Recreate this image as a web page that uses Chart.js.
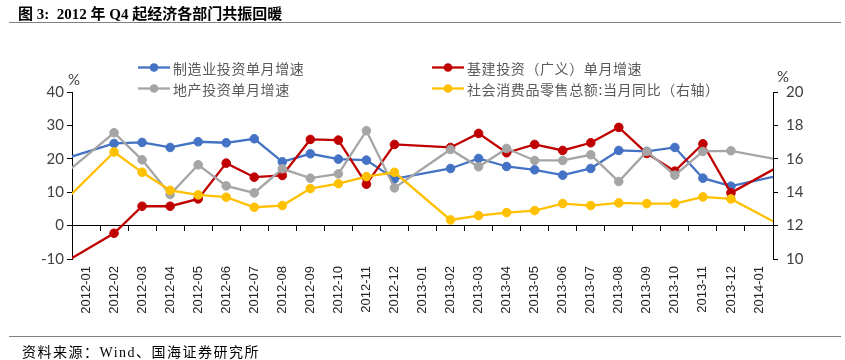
<!DOCTYPE html>
<html>
<head>
<meta charset="utf-8">
<script src="https://cdn.jsdelivr.net/npm/chart.js@4.4.1/dist/chart.umd.min.js"></script>
<style>
  html, body { margin:0; padding:0; background:#fff; }
  #wrap { position:relative; width:845px; height:360px; overflow:hidden; }
  #c { position:absolute; left:0; top:0; }
  #title { position:absolute; left:18px; top:2px; font: bold 15px "Liberation Serif", "Noto Sans CJK SC", serif; color:#000; white-space:nowrap; }
  #tline { position:absolute; left:9px; top:22px; width:832px; border-top:1.5px solid #808080; }
  #bline { position:absolute; left:9px; top:336px; width:832px; border-top:1.5px solid #808080; }
  #source { position:absolute; left:22px; top:341px; font: 14px "Liberation Serif", "Noto Sans CJK SC", serif; letter-spacing:1.5px; color:#000; white-space:nowrap; }
</style>
</head>
<body>
<div id="wrap">
  <canvas id="c" width="845" height="360"></canvas>
  <div id="title">图 3:&nbsp; 2012 年 Q4 起经济各部门共振回暖</div>
  <div id="tline"></div>
  <div id="bline"></div>
  <div id="source">资料来源：Wind、国海证券研究所</div>
</div>
<script>
// x-axis tick labels (categories)
const months = ['2012-01','2012-02','2012-03','2012-04','2012-05','2012-06','2012-07','2012-08','2012-09','2012-10','2012-11','2012-12',
                '2013-01','2013-02','2013-03','2013-04','2013-05','2013-06','2013-07','2013-08','2013-09','2013-10','2013-11','2013-12','2014-01'];
// months that carry data (January values are absent; first/last lie just outside the plot)
const dataMonths = ['2011-12','2012-02','2012-03','2012-04','2012-05','2012-06','2012-07','2012-08','2012-09','2012-10','2012-11','2012-12',
                    '2013-02','2013-03','2013-04','2013-05','2013-06','2013-07','2013-08','2013-09','2013-10','2013-11','2013-12','2014-02'];
const seriesNames = ['制造业投资单月增速','基建投资（广义）单月增速','地产投资单月增速','社会消费品零售总额:当月同比（右轴）'];
const manufacturing = [19.4,24.6,24.9,23.4,25.1,24.8,26.0,19.1,21.5,19.9,19.6,14.0,17.1,20.1,17.7,16.7,15.1,17.1,22.5,22.2,23.4,14.2,11.8,15.5];
const infrastructure = [-12.2,-2.3,5.8,5.8,8.0,18.7,14.5,15.0,25.8,25.6,12.4,24.3,23.4,27.6,21.8,24.3,22.5,24.8,29.4,21.6,16.3,24.5,9.8,19.1];
const realEstate = [13.8,27.8,19.7,9.3,18.2,11.9,9.8,17.0,14.2,15.5,28.4,11.3,22.8,17.6,23.1,19.5,19.5,21.2,13.2,22.2,15.1,22.2,22.4,19.3];
const retail = [13.09,16.41,15.19,14.11,13.84,13.70,13.10,13.20,14.22,14.51,14.93,15.19,12.34,12.60,12.78,12.90,13.32,13.20,13.36,13.32,13.32,13.72,13.60,11.81];
const leftTicks = [-10,0,10,20,30,40];
const rightTicks = [10,12,14,16,18,20];

const colors = ['#4472C4','#C00000','#A5A5A5','#FFC000'];

function monthIndex(s){ const [y,m]=s.split('-').map(Number); return (y-2012)*12 + (m-1); }
function pts(vals){ return dataMonths.map((m,i)=>({x: monthIndex(m), y: vals[i]})); }

function ds(i, vals, yAxis, order){
  return {
    label: seriesNames[i], data: pts(vals), xAxisID:'xd', yAxisID:yAxis,
    borderColor: colors[i], backgroundColor: colors[i], borderWidth: 2.3,
    pointRadius: 4.3, pointBorderWidth: 1, pointBorderColor: colors[i], pointBackgroundColor: colors[i],
    tension: 0, clip: 0, order: order
  };
}

const tickFont = { family: 'Lato, "Liberation Sans", sans-serif', size: 15 };

const overlay = {
  id: 'overlay',
  afterDraw(chart){
    const ctx = chart.ctx;
    const ca = chart.chartArea;
    ctx.save();
    // % unit labels
    ctx.fillStyle = '#404040';
    ctx.font = '15px Lato, "Liberation Sans", sans-serif';
    ctx.textAlign = 'center'; ctx.textBaseline = 'middle';
    ctx.fillText('%', ca.left + 2, ca.top - 12);
    ctx.fillText('%', ca.right + 10, ca.top - 15);
    // legend (2 x 2)
    const cols = [138, 432], rows = [67.5, 88.5];
    const order = [[0,0],[1,0],[0,1],[1,1]];
    ctx.font = '14px "Noto Sans CJK SC", sans-serif';
    ctx.textAlign = 'left';
    chart.data.datasets.forEach((d, i) => {
      const x = cols[order[i][0]], y = rows[order[i][1]];
      ctx.strokeStyle = d.borderColor; ctx.lineWidth = 2.3;
      ctx.beginPath(); ctx.moveTo(x, y); ctx.lineTo(x + 32, y); ctx.stroke();
      ctx.fillStyle = d.borderColor;
      ctx.beginPath(); ctx.arc(x + 16, y, 4.3, 0, Math.PI*2); ctx.fill();
      ctx.fillStyle = '#595959';
      if ('letterSpacing' in ctx) ctx.letterSpacing = '0.6px';
      ctx.fillText(d.label, x + 35, y + 1);
      if ('letterSpacing' in ctx) ctx.letterSpacing = '0px';
    });
    ctx.restore();
  }
};

new Chart(document.getElementById('c'), {
  type: 'line',
  data: { datasets: [
    ds(0, manufacturing, 'y', 4),
    ds(1, infrastructure, 'y', 3),
    ds(2, realEstate, 'y', 2),
    ds(3, retail, 'y2', 1)
  ]},
  options: {
    responsive: false, animation: false, maintainAspectRatio: false,
    layout: { padding: { top: 92, left: 0, right: 0, bottom: 0 } },
    plugins: { legend: { display: false }, tooltip: { enabled: false } },
    scales: {
      x: {
        type: 'category', labels: months, offset: true, position: 'bottom',
        grid: { display: false, drawTicks: false }, border: { display: false },
        ticks: { minRotation: 90, maxRotation: 90, autoSkip: false, padding: 7,
                 color: '#262626', font: { family: '"Liberation Sans", Arial, sans-serif', size: 13 } },
        afterFit: s => { s.height = 101; }
      },
      x0: {
        type: 'category', labels: months, offset: true, position: { y: 0 },
        grid: { offset: true, drawOnChartArea: false, drawTicks: true, tickLength: 5, color: '#000', lineWidth: 1 },
        border: { display: true, color: '#000', width: 1 },
        ticks: { display: false }
      },
      xd: { type: 'linear', min: -0.5, max: 24.5, display: false },
      y: {
        position: 'left', min: leftTicks[0], max: leftTicks[leftTicks.length-1],
        afterBuildTicks: s => { s.ticks = leftTicks.map(v => ({ value: v })); },
        grid: { drawOnChartArea: false, drawTicks: true, tickLength: 5, color: '#000' },
        border: { display: true, color: '#000', width: 1 },
        ticks: { padding: 3, color: '#404040', font: tickFont },
        afterFit: s => { s.width = 72; }
      },
      y2: {
        position: 'right', min: rightTicks[0], max: rightTicks[rightTicks.length-1],
        afterBuildTicks: s => { s.ticks = rightTicks.map(v => ({ value: v })); },
        grid: { drawOnChartArea: false, drawTicks: true, tickLength: 5, color: '#000' },
        border: { display: true, color: '#000', width: 1 },
        ticks: { padding: 8, color: '#404040', font: tickFont },
        afterFit: s => { s.width = 72; }
      }
    }
  },
  plugins: [overlay]
});
</script>
</body>
</html>
